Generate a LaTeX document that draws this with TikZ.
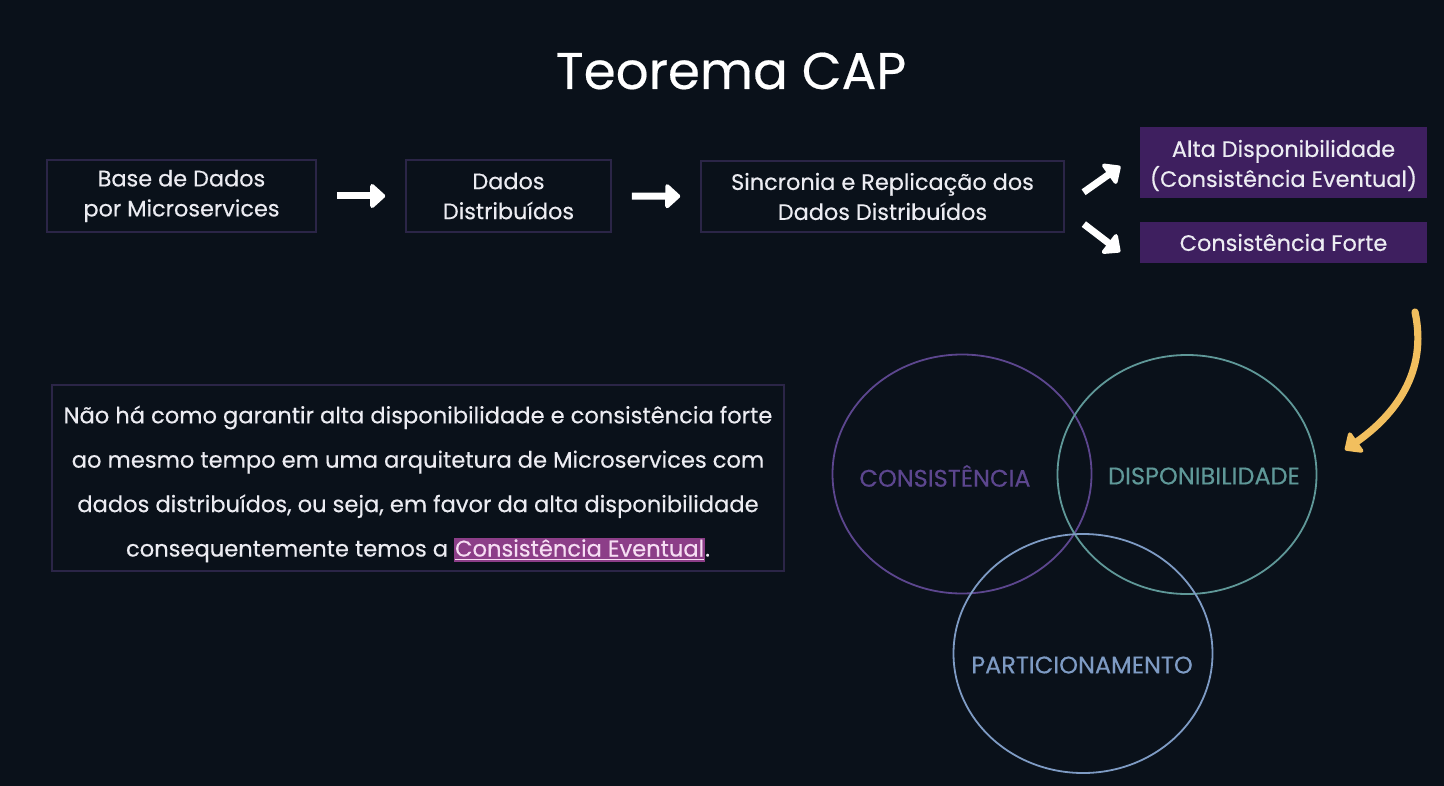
\documentclass[tikz,border=0pt]{standalone}
\usepackage{fontspec}
\setmainfont{Poppins}[FakeBold=0.35]
\usepackage{xcolor}
\definecolor{bg}{HTML}{0A111A}
\definecolor{ink}{HTML}{ECECF2}
\definecolor{edge}{HTML}{2B2547}
\definecolor{plum}{HTML}{3E1F5F}
\definecolor{capC}{HTML}{5C468E}
\definecolor{capD}{HTML}{5F9898}
\definecolor{capP}{HTML}{7E9BC4}
\definecolor{gold}{HTML}{F2BF5E}
\definecolor{hl}{HTML}{8C3E88}
\definecolor{hltext}{HTML}{F6DDF3}
\usetikzlibrary{arrows.meta,positioning,shapes.geometric}
\newcommand{\realce}[1]{{\setlength\fboxsep{0.5pt}\colorbox{hl}{\color{hltext}\underline{#1}}}}
\tikzset{
  >={Triangle[length=8pt,width=14pt,round]},
  box/.style={draw=edge,line width=0.8pt,fill=bg,text=ink,align=center,inner sep=2pt,font=\fontsize{11.2}{15}\selectfont},
  pbox/.style={box,draw=none,fill=plum,minimum width=143.5pt},
  arr/.style={->,draw=white,line width=3.5pt},
  ring/.style={ellipse,draw,line width=0.9pt,inner sep=0pt,minimum width=129.5pt,minimum height=119.5pt},
  ringlab/.style={font=\fontsize{12}{14}\selectfont},
}
\begin{document}
\begin{tikzpicture}[x=0.5pt,y=-0.5pt]
\fill[bg] (0,0) rectangle (1444,786);
\useasboundingbox (0,0) rectangle (1444,786);
\node[text=white,font=\fontsize{25.8}{30}\selectfont] (ttl) at (731,71) {Teorema CAP};
% fluxo de cima
\node[box,minimum width=134.5pt,minimum height=36pt] (base) at (181.5,196) {Base de Dados\\por Microservices};
\node[box,minimum width=102.5pt,minimum height=36pt] (dist) at (508.5,196) {Dados\\Distribuídos};
\node[box,minimum width=181.5pt,minimum height=35.5pt] (sinc) at (882.5,196.5) {Sincronia e Replicação dos\\Dados Distribuídos};
\node[pbox,minimum height=35.5pt] (alta) at (1283.5,162.5) {};
\node[text=ink,align=center,font=\fontsize{11.2}{15}\selectfont] (altatxt) at ([yshift=-1.5pt]alta.center) {Alta Disponibilidade\\(Consistência Eventual)};
\node[pbox,minimum height=20.5pt] (forte) at (1283.5,242.5) {Consistência Forte};
\draw[arr,shorten <=10pt,shorten >=10pt] (base) -- (dist);
\draw[arr,shorten <=10pt,shorten >=10pt] (dist) -- (sinc);
\draw[arr,shorten <=11.5pt,shorten >=11.5pt] ([yshift=-4.5pt]sinc.east) -- ([yshift=4.75pt]alta.west);
\draw[arr,shorten <=12pt,shorten >=12pt] ([yshift=-6.5pt]sinc.east) -- ([yshift=-12pt]forte.west);
% seta curva
\coordinate (g0) at (1415,312);
\coordinate (g1) at (1345,450);
\draw[->,gold,line width=3.6pt,line cap=round] (g0) .. controls (1428,372) and (1395,415) .. (g1);
% nota
\node[box,minimum width=366pt,minimum height=93pt] (nota) at (418,478) {};
\node[text=ink,align=center,font=\fontsize{11.3}{22.2}\selectfont] (notatxt) at ([yshift=-3pt]nota.center)
  {Não há como garantir alta disponibilidade e consistência forte\\
   ao mesmo tempo em uma arquitetura de Microservices com\\
   dados distribuídos, ou seja, em favor da alta disponibilidade\\
   consequentemente temos a \realce{Consistência Eventual}.};
% CAP
\node[ring,draw=capC] (cons) at (962,474) {};
\node[ring,draw=capD] (disp) at (1187,474.5) {};
\node[ring,draw=capP] (part) at (1083,653.5) {};
\node[ringlab,text=capC] (lc) at (945,476) {CONSISTÊNCIA};
\node[ringlab,text=capD] (ld) at (1204,476) {DISPONIBILIDADE};
\node[ringlab,text=capP] (lp) at (1082,665) {PARTICIONAMENTO};
\end{tikzpicture}
\end{document}
